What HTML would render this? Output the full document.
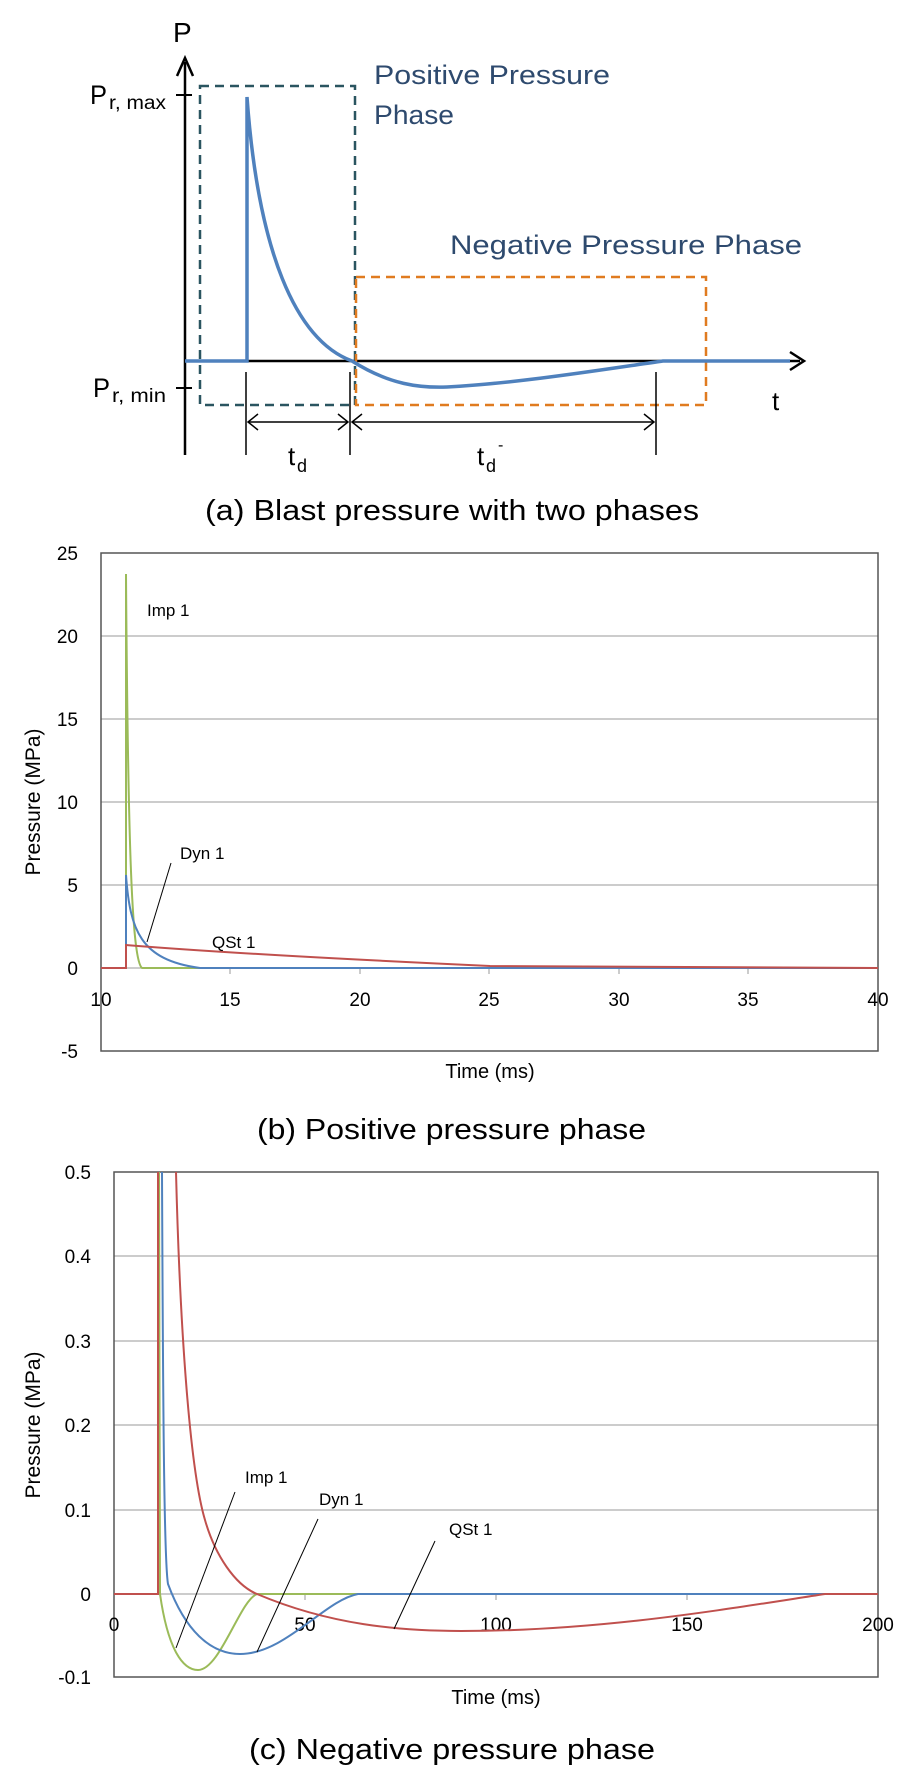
<!DOCTYPE html>
<html><head><meta charset="utf-8"><style>html,body{margin:0;padding:0;background:#fff}svg{display:block}</style></head><body>
<svg width="904" height="1770" viewBox="0 0 904 1770" xmlns="http://www.w3.org/2000/svg" font-family="Liberation Sans, sans-serif">
<!-- (a) -->
<g>
<text x="173" y="42" font-size="28" fill="#000">P</text>
<line x1="185" y1="455" x2="185" y2="62" stroke="#000" stroke-width="2.5"/>
<polyline points="177,76 185,58 193,76" fill="none" stroke="#000" stroke-width="2.5"/>
<line x1="185" y1="361" x2="800" y2="361" stroke="#000" stroke-width="2.5"/>
<polyline points="790,352 804,361 790,370" fill="none" stroke="#000" stroke-width="2.5"/>
<line x1="176" y1="95" x2="192" y2="95" stroke="#000" stroke-width="2"/>
<line x1="176" y1="388" x2="192" y2="388" stroke="#000" stroke-width="2"/>
<text x="90" y="104" font-size="27" textLength="17" lengthAdjust="spacingAndGlyphs">P</text>
<text x="109" y="109" font-size="19" textLength="57" lengthAdjust="spacingAndGlyphs">r, max</text>
<text x="93" y="397" font-size="27" textLength="17" lengthAdjust="spacingAndGlyphs">P</text>
<text x="112" y="402" font-size="19" textLength="54" lengthAdjust="spacingAndGlyphs">r, min</text>
<text x="772" y="410" font-size="26">t</text>
<rect x="200" y="86" width="155" height="319" fill="none" stroke="#2a5560" stroke-width="2.5" stroke-dasharray="9,6"/>
<rect x="356" y="277" width="350" height="128" fill="none" stroke="#e07b20" stroke-width="2.5" stroke-dasharray="9,6"/>
<path d="M185 361 L247 361 L247 97 C 258 250, 295 340, 352 361 C 390 385, 420 388, 447 387 C 520 383, 600 370, 663 361 L 790 361" fill="none" stroke="#4f81bd" stroke-width="3.5"/>
<line x1="246" y1="372" x2="246" y2="455" stroke="#000" stroke-width="1.5"/>
<line x1="350" y1="372" x2="350" y2="455" stroke="#000" stroke-width="1.5"/>
<line x1="656" y1="372" x2="656" y2="455" stroke="#000" stroke-width="1.5"/>
<line x1="248" y1="422" x2="348" y2="422" stroke="#000" stroke-width="1.5"/>
<line x1="352" y1="422" x2="654" y2="422" stroke="#000" stroke-width="1.5"/>
<polyline points="258,414 248,422 258,430" fill="none" stroke="#000" stroke-width="1.5"/>
<polyline points="338,414 348,422 338,430" fill="none" stroke="#000" stroke-width="1.5"/>
<polyline points="362,414 352,422 362,430" fill="none" stroke="#000" stroke-width="1.5"/>
<polyline points="644,414 654,422 644,430" fill="none" stroke="#000" stroke-width="1.5"/>
<text x="288" y="465" font-size="26">t</text><text x="297" y="472" font-size="18">d</text>
<text x="477" y="465" font-size="26">t</text><text x="486" y="472" font-size="18">d</text><text x="498" y="450" font-size="16">-</text>
<text x="374" y="84" font-size="27" fill="#2e4a6e" textLength="236" lengthAdjust="spacingAndGlyphs">Positive Pressure</text>
<text x="374" y="124" font-size="27" fill="#2e4a6e" textLength="80" lengthAdjust="spacingAndGlyphs">Phase</text>
<text x="450" y="254" font-size="27" fill="#2e4a6e" textLength="352" lengthAdjust="spacingAndGlyphs">Negative Pressure Phase</text>
<text x="205" y="520" font-size="29" textLength="494" lengthAdjust="spacingAndGlyphs">(a) Blast pressure with two phases</text>
</g>
<!-- (b) -->
<g>
<g stroke="#999" stroke-width="1">
<line x1="101" y1="636" x2="878" y2="636"/><line x1="101" y1="719" x2="878" y2="719"/>
<line x1="101" y1="802" x2="878" y2="802"/><line x1="101" y1="885" x2="878" y2="885"/>
<line x1="101" y1="968" x2="878" y2="968"/>
</g>
<g stroke="#999" stroke-width="1">
<line x1="230" y1="968" x2="230" y2="974"/><line x1="360" y1="968" x2="360" y2="974"/><line x1="489" y1="968" x2="489" y2="974"/><line x1="619" y1="968" x2="619" y2="974"/><line x1="748" y1="968" x2="748" y2="974"/>
</g>
<rect x="101" y="553" width="777" height="498" fill="none" stroke="#555" stroke-width="1.5"/>
<g font-size="19" text-anchor="end">
<text x="78" y="560">25</text><text x="78" y="643">20</text><text x="78" y="726">15</text><text x="78" y="809">10</text><text x="78" y="892">5</text><text x="78" y="975">0</text><text x="78" y="1058">-5</text>
</g>
<g font-size="19" text-anchor="middle">
<text x="101" y="1006">10</text><text x="230" y="1006">15</text><text x="360" y="1006">20</text><text x="489" y="1006">25</text><text x="619" y="1006">30</text><text x="748" y="1006">35</text><text x="878" y="1006">40</text>
</g>
<text transform="translate(40,802) rotate(-90)" font-size="21" text-anchor="middle">Pressure (MPa)</text>
<text x="490" y="1078" font-size="20" text-anchor="middle">Time (ms)</text>
<path d="M101 968 L126 968 L126 574 C128 850, 132 960, 142 968 L 878 968" fill="none" stroke="#9bbb59" stroke-width="2"/>
<path d="M126 968 L126 875 C130 930, 140 960, 200 968 L 878 968" fill="none" stroke="#4f81bd" stroke-width="2"/>
<path d="M101 968 L126 968 L126 945 Q 250 955, 490 966 L 878 968" fill="none" stroke="#c0504d" stroke-width="2"/>
<text x="147" y="616" font-size="17">Imp 1</text>
<text x="180" y="859" font-size="17">Dyn 1</text>
<line x1="171" y1="863" x2="147" y2="942" stroke="#000" stroke-width="1"/>
<text x="212" y="948" font-size="17">QSt 1</text>
<text x="257" y="1139" font-size="29" textLength="389" lengthAdjust="spacingAndGlyphs">(b) Positive pressure phase</text>
</g>
<!-- (c) -->
<g>
<g stroke="#999" stroke-width="1">
<line x1="114" y1="1256" x2="878" y2="1256"/><line x1="114" y1="1341" x2="878" y2="1341"/>
<line x1="114" y1="1425" x2="878" y2="1425"/><line x1="114" y1="1510" x2="878" y2="1510"/>
<line x1="114" y1="1594" x2="878" y2="1594"/>
<line x1="305" y1="1594" x2="305" y2="1600"/><line x1="496" y1="1594" x2="496" y2="1600"/><line x1="687" y1="1594" x2="687" y2="1600"/>
</g>
<rect x="114" y="1172" width="764" height="505" fill="none" stroke="#555" stroke-width="1.5"/>
<g font-size="19" text-anchor="end">
<text x="91" y="1179">0.5</text><text x="91" y="1263">0.4</text><text x="91" y="1348">0.3</text><text x="91" y="1432">0.2</text><text x="91" y="1517">0.1</text><text x="91" y="1601">0</text><text x="91" y="1684">-0.1</text>
</g>
<g font-size="19" text-anchor="middle">
<text x="114" y="1631">0</text><text x="305" y="1631">50</text><text x="496" y="1631">100</text><text x="687" y="1631">150</text><text x="878" y="1631">200</text>
</g>
<text transform="translate(40,1425) rotate(-90)" font-size="21" text-anchor="middle">Pressure (MPa)</text>
<text x="496" y="1704" font-size="20" text-anchor="middle">Time (ms)</text>
<path d="M159 1172 L160 1594 C168 1650, 183 1670, 198 1670 C220 1670, 240 1600, 257 1594 L878 1594" fill="none" stroke="#9bbb59" stroke-width="2"/>
<path d="M162 1172 C163 1400, 164 1560, 168 1584 C185 1630, 210 1654, 240 1654 C285 1654, 325 1600, 358 1594 L878 1594" fill="none" stroke="#4f81bd" stroke-width="2"/>
<path d="M114 1594 L158 1594 L158 1172" fill="none" stroke="#c0504d" stroke-width="2"/>
<path d="M176 1172 C180 1330, 190 1470, 205 1520 C215 1555, 235 1585, 257 1594 C330 1625, 400 1631, 461 1631 C600 1631, 720 1610, 825 1594 L878 1594" fill="none" stroke="#c0504d" stroke-width="2"/>
<text x="245" y="1483" font-size="17">Imp 1</text>
<line x1="235" y1="1492" x2="176" y2="1648" stroke="#000" stroke-width="1"/>
<text x="319" y="1505" font-size="17">Dyn 1</text>
<line x1="318" y1="1519" x2="257" y2="1652" stroke="#000" stroke-width="1"/>
<text x="449" y="1535" font-size="17">QSt 1</text>
<line x1="435" y1="1541" x2="394" y2="1629" stroke="#000" stroke-width="1"/>
<text x="249" y="1759" font-size="29" textLength="406" lengthAdjust="spacingAndGlyphs">(c) Negative pressure phase</text>
</g>
</svg>
</body></html>
